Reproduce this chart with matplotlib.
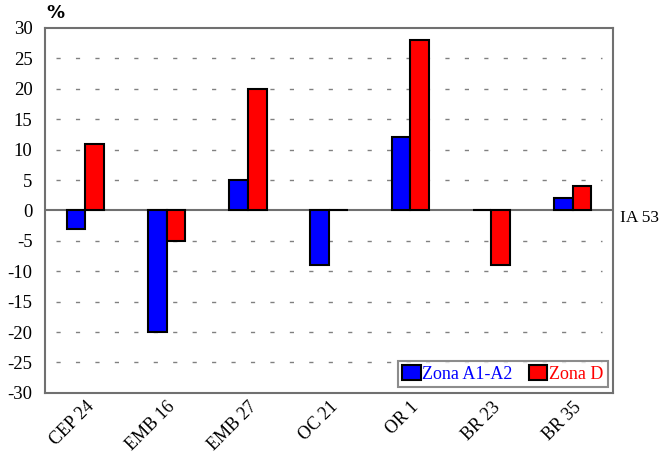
import matplotlib
matplotlib.use("Agg")
import matplotlib.pyplot as plt
import numpy as np

categories = ["CEP 24", "EMB 16", "EMB 27", "OC 21", "OR 1", "BR 23", "BR 35"]
zona_a1a2 = [-3, -20, 5, -9, 12, 0, 2]
zona_d = [11, -5, 20, 0, 28, -9, 4]
yticks = [30, 25, 20, 15, 10, 5, 0, -5, -10, -15, -20, -25, -30]

plt.rcParams['font.family'] = ['Liberation Serif', 'DejaVu Serif']

fig = plt.figure(figsize=(6.6, 4.59), dpi=100)
ax = fig.add_axes([0.068, 0.144, 0.861, 0.795])

x = np.arange(len(categories))
w = 0.23
ax.bar(x - w / 2, zona_a1a2, w, color="#0000ff", edgecolor="black", linewidth=1.5,
       label="Zona A1-A2", zorder=3)
ax.bar(x + w / 2, zona_d, w, color="#ff0000", edgecolor="black", linewidth=1.5,
       label="Zona D", zorder=3)

ax.set_xlim(-0.5, len(categories) - 0.5)
ax.set_ylim(-30, 30)
ax.set_yticks(yticks)
ax.set_yticklabels([str(t) for t in yticks], fontsize=13.5)
ax.set_xticks(x)
ax.set_xticklabels(categories, rotation=45, ha="right", rotation_mode="anchor",
                   fontsize=13)
ax.tick_params(axis="y", length=0, pad=9)
ax.tick_params(axis="x", length=0, pad=4)

for t in yticks:
    if t not in (30, -30, 0):
        ax.axhline(t, xmin=0.02, xmax=0.98, color="#808080", lw=1, dashes=(3, 11), zorder=1)
ax.axhline(0, color="#707070", lw=1.5, zorder=2)

for s in ax.spines.values():
    s.set_color("#707070")
    s.set_linewidth(1.5)

leg = ax.legend(loc="lower right", ncol=2, fontsize=13, frameon=True, fancybox=False,
                borderaxespad=0.3, handlelength=1.0, handleheight=0.9,
                handletextpad=0.1, columnspacing=0.9, borderpad=0.25)
leg.get_frame().set_edgecolor("#707070")
leg.get_frame().set_linewidth(1.5)
for txt, c in zip(leg.get_texts(), ["#0000ff", "#ff0000"]):
    txt.set_color(c)

fig.text(0.084, 0.972, "%", fontsize=13, ha="center", va="center",
         family=["DejaVu Sans"], weight="bold")
ax.text(1.012, 0, "IA 53", transform=ax.get_yaxis_transform(), fontsize=12.5,
        ha="left", va="top")

fig.savefig("out.png", dpi=100)
